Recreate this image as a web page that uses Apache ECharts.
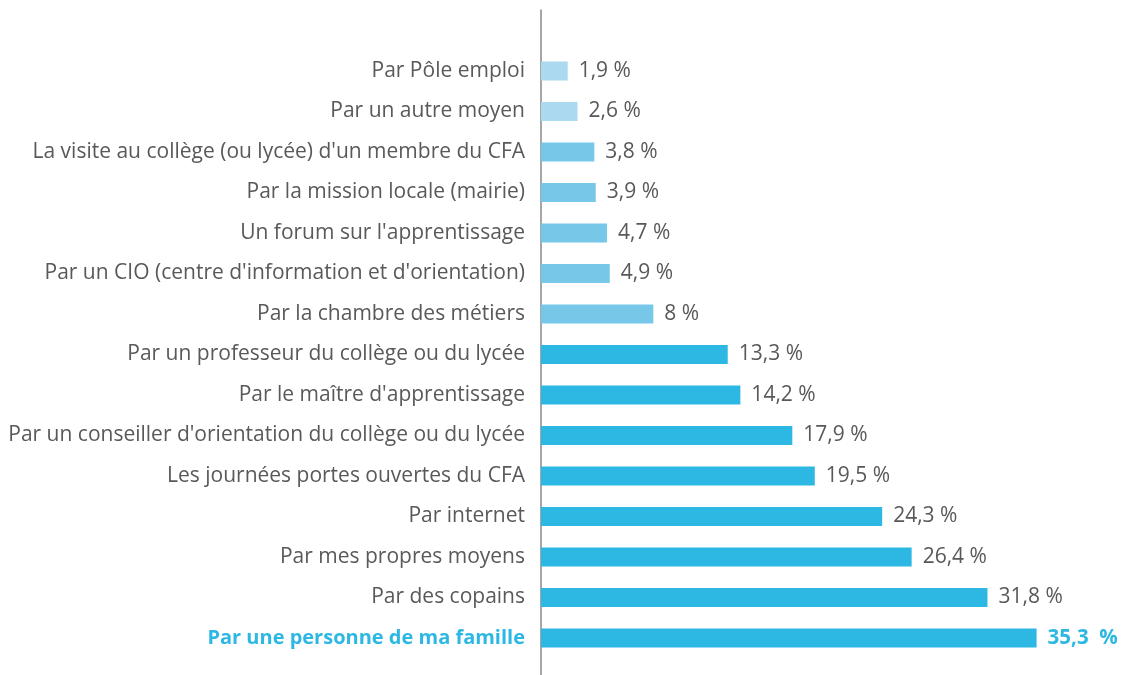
<!DOCTYPE html>
<html>
<head>
<meta charset="utf-8">
<script src="https://cdn.jsdelivr.net/npm/echarts@6/dist/echarts.min.js"></script>
<style>
html, body { margin: 0; padding: 0; background: #fff; }
#main { width: 1123px; height: 675px; }
</style>
</head>
<body>
<div id="main"></div>
<script>
// categories, from top to bottom
var categories = [
	"Par Pôle emploi",
	"Par un autre moyen",
	"La visite au collège (ou lycée) d'un membre du CFA",
	"Par la mission locale (mairie)",
	"Un forum sur l'apprentissage",
	"Par un CIO (centre d'information et d'orientation)",
	"Par la chambre des métiers",
	"Par un professeur du collège ou du lycée",
	"Par le maître d'apprentissage",
	"Par un conseiller d'orientation du collège ou du lycée",
	"Les journées portes ouvertes du CFA",
	"Par internet",
	"Par mes propres moyens",
	"Par des copains",
	"Par une personne de ma famille"
];
var values = [1.9, 2.6, 3.8, 3.9, 4.7, 4.9, 8, 13.3, 14.2, 17.9, 19.5, 24.3, 26.4, 31.8, 35.3];
var valueLabels = ["1,9 %", "2,6 %", "3,8 %", "3,9 %", "4,7 %", "4,9 %", "8 %", "13,3 %", "14,2 %",
	"17,9 %", "19,5 %", "24,3 %", "26,4 %", "31,8 %", "35,3  %"];
// groupe de couleur par barre : 0 = clair, 1 = moyen, 2 = fonce
var colorGroup = [0, 0, 1, 1, 1, 1, 1, 2, 2, 2, 2, 2, 2, 2, 2];

var palette = ['#abd9ef', '#77c8e8', '#2db8e3'];
var highlight = categories.length - 1;

var barData = values.map(function(v, i) {
	return {
		value: v,
		itemStyle: { color: palette[colorGroup[i]] },
		label: i == highlight ? { fontWeight: 'bold', fontSize: 20.5, color: '#2db8e3' } : {}
	};
});

var myChart = echarts.init(document.getElementById('main'));
var option = {
	animation: false,
	textStyle: { fontFamily: 'Open Sans' },
	grid: [
		{ left: 541, top: 50.75, height: 607.5, width: 561.6 },
		// grille vide, seulement pour la ligne d'axe verticale
		{ left: 541, top: 10, bottom: 0, width: 1 }
	],
	xAxis: [
		{ type: 'value', min: 0, max: 40, show: false, gridIndex: 0 },
		{ type: 'value', show: false, gridIndex: 1 }
	],
	yAxis: [
		{
			type: 'category',
			gridIndex: 0,
			inverse: true,
			data: categories,
			axisLine: { show: false },
			axisTick: { show: false },
			splitLine: { show: false },
			axisLabel: {
				margin: 16,
				fontSize: 21,
				color: '#595959',
				fontFamily: 'Open Sans',
				formatter: function(v, i) {
					return i == highlight ? '{hl|' + v + '}' : v;
				},
				rich: {
					hl: { fontSize: 20, fontWeight: 'bold', color: '#2db8e3', fontFamily: 'Open Sans' }
				}
			}
		},
		{
			type: 'value',
			gridIndex: 1,
			axisLine: { show: true, lineStyle: { color: '#888888', width: 1.5 } },
			axisTick: { show: false },
			axisLabel: { show: false },
			splitLine: { show: false }
		}
	],
	series: [{
		type: 'bar',
		xAxisIndex: 0,
		yAxisIndex: 0,
		barWidth: 19,
		data: barData,
		label: {
			show: true,
			position: 'right',
			distance: 11,
			fontSize: 21,
			color: '#595959',
			fontFamily: 'Open Sans',
			formatter: function(p) { return valueLabels[p.dataIndex]; }
		}
	}]
};
myChart.setOption(option);
</script>
</body>
</html>
